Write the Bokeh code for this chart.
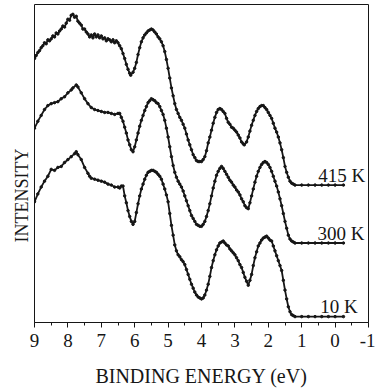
from bokeh.plotting import figure
from bokeh.models import Range1d, FixedTicker, Title
from bokeh.core.properties import value
from bokeh.embed import file_html
from bokeh.resources import INLINE

# ---- data ----
energy_415 = [9.0, 8.95, 8.9, 8.85, 8.8, 8.75, 8.7, 8.65, 8.6, 8.55, 8.5, 8.45, 8.4, 8.35, 8.3, 8.25,
              8.2, 8.15, 8.1, 8.05, 8.0, 7.95, 7.9, 7.85, 7.8, 7.75, 7.7, 7.65, 7.6, 7.55, 7.5, 7.45,
              7.4, 7.35, 7.3, 7.25, 7.2, 7.15, 7.1, 7.05, 7.0, 6.95, 6.9, 6.85, 6.8, 6.75, 6.7, 6.65,
              6.6, 6.55, 6.5, 6.45, 6.4, 6.35, 6.3, 6.25, 6.2, 6.15, 6.12, 6.05, 6.0, 5.95, 5.9, 5.85,
              5.8, 5.75, 5.7, 5.65, 5.6, 5.55, 5.5, 5.45, 5.4, 5.35, 5.3, 5.25, 5.2, 5.15, 5.1, 5.05,
              5.0, 4.95, 4.9, 4.85, 4.8, 4.75, 4.7, 4.65, 4.6, 4.55, 4.5, 4.45, 4.4, 4.35, 4.3, 4.25,
              4.2, 4.15, 4.1, 4.05, 4.0, 3.95, 3.9, 3.85, 3.8, 3.75, 3.7, 3.65, 3.6, 3.55, 3.5, 3.45,
              3.4, 3.35, 3.3, 3.25, 3.2, 3.15, 3.1, 3.05, 3.0, 2.95, 2.9, 2.85, 2.8, 2.75, 2.72, 2.65,
              2.6, 2.55, 2.5, 2.45, 2.4, 2.35, 2.3, 2.25, 2.2, 2.15, 2.1, 2.05, 2.0, 1.95, 1.9, 1.85,
              1.8, 1.75, 1.7, 1.65, 1.6, 1.55, 1.5, 1.45, 1.4, 1.35, 1.3, 1.25, 1.2, 1.0, 0.8, 0.6,
              0.4, 0.2, 0.0, -0.25]
int_415 = [269, 272, 275, 277, 280, 282, 285, 284, 288, 287, 289, 292, 291, 295, 294, 297,
           299, 302, 301, 305, 309, 308, 313, 314, 311, 312, 307, 305, 303, 299, 299, 296,
           294, 291, 293, 290, 294, 291, 293, 290, 292, 289, 290, 287, 289, 288, 286, 288,
           285, 287, 285, 282, 279, 274, 269, 263, 258, 254, 252, 255, 259, 265, 273, 280,
           286, 290, 293, 295, 297, 298, 299, 298, 296, 294, 291, 289, 286, 282, 276, 268,
           259, 249, 239, 231, 223, 217, 213, 209, 206, 202, 198, 192, 186, 181, 176, 171,
           168, 165, 164, 164, 164, 166, 169, 175, 183, 189, 196, 203, 209, 214, 217, 218,
           217, 215, 213, 208, 204, 202, 199, 198, 196, 194, 191, 188, 184, 182, 181, 184,
           189, 195, 201, 206, 211, 215, 218, 220, 221, 221, 219, 217, 214, 211, 208, 203,
           198, 194, 189, 183, 176, 168, 159, 153, 148, 144, 142, 141, 140, 140, 140, 140,
           140, 140, 140, 140]

energy_300 = [9.0, 8.9, 8.8, 8.7, 8.6, 8.5, 8.4, 8.3, 8.2, 8.1, 8.0, 7.9, 7.85, 7.75, 7.7, 7.6,
              7.5, 7.4, 7.3, 7.2, 7.1, 7.0, 6.9, 6.8, 6.7, 6.6, 6.5, 6.45, 6.4, 6.35, 6.3, 6.25,
              6.2, 6.15, 6.1, 6.05, 6.0, 5.95, 5.9, 5.85, 5.8, 5.75, 5.7, 5.65, 5.6, 5.55, 5.5, 5.45,
              5.4, 5.35, 5.3, 5.25, 5.2, 5.15, 5.1, 5.05, 5.0, 4.95, 4.9, 4.85, 4.8, 4.75, 4.7, 4.65,
              4.6, 4.55, 4.5, 4.45, 4.4, 4.35, 4.3, 4.25, 4.2, 4.15, 4.1, 4.05, 4.0, 3.95, 3.9, 3.85,
              3.8, 3.75, 3.7, 3.65, 3.6, 3.55, 3.5, 3.45, 3.4, 3.35, 3.3, 3.25, 3.2, 3.15, 3.1, 3.05,
              3.0, 2.95, 2.9, 2.85, 2.8, 2.75, 2.7, 2.65, 2.6, 2.55, 2.5, 2.45, 2.4, 2.35, 2.3, 2.25,
              2.2, 2.15, 2.1, 2.05, 2.0, 1.95, 1.9, 1.85, 1.8, 1.75, 1.7, 1.65, 1.6, 1.55, 1.5, 1.45,
              1.4, 1.35, 1.3, 1.25, 1.2, 1.0, 0.8, 0.6, 0.4, 0.2, 0.0, -0.25]
int_300 = [198, 205, 211, 217, 221, 223, 224, 225, 228, 230, 234, 237, 239, 242, 240, 234,
           228, 223, 219, 217, 216, 215, 214, 214, 213, 212, 213, 213, 209, 205, 199, 193,
           186, 181, 176, 174, 179, 186, 193, 200, 206, 211, 216, 220, 224, 226, 228, 227,
           226, 224, 223, 220, 216, 212, 206, 198, 189, 179, 169, 160, 153, 148, 144, 141,
           138, 134, 129, 124, 119, 114, 109, 106, 103, 100, 99, 98, 98, 100, 103, 108,
           114, 121, 129, 137, 144, 150, 154, 157, 159, 157, 154, 151, 148, 145, 143, 140,
           138, 135, 133, 130, 126, 123, 119, 117, 116, 122, 129, 136, 143, 149, 154, 158,
           161, 163, 164, 163, 161, 158, 154, 149, 144, 139, 133, 126, 119, 111, 103, 96,
           89, 85, 83, 82, 81, 81, 81, 81, 81, 81, 81, 81]

energy_10 = [9.0, 8.9, 8.8, 8.7, 8.6, 8.5, 8.4, 8.3, 8.2, 8.1, 8.0, 7.9, 7.8, 7.75, 7.7, 7.6,
             7.5, 7.4, 7.35, 7.3, 7.2, 7.1, 7.0, 6.9, 6.8, 6.7, 6.6, 6.5, 6.45, 6.4, 6.35, 6.3,
             6.25, 6.2, 6.15, 6.1, 6.05, 6.0, 5.95, 5.9, 5.85, 5.8, 5.75, 5.7, 5.65, 5.6, 5.55, 5.5,
             5.45, 5.4, 5.35, 5.3, 5.25, 5.2, 5.15, 5.1, 5.05, 5.0, 4.95, 4.9, 4.85, 4.8, 4.75, 4.7,
             4.65, 4.6, 4.55, 4.5, 4.45, 4.4, 4.35, 4.3, 4.25, 4.2, 4.15, 4.1, 4.05, 4.0, 3.95, 3.9,
             3.85, 3.8, 3.75, 3.7, 3.65, 3.6, 3.55, 3.5, 3.45, 3.4, 3.35, 3.3, 3.25, 3.2, 3.15, 3.1,
             3.05, 3.0, 2.95, 2.9, 2.85, 2.8, 2.75, 2.7, 2.65, 2.6, 2.55, 2.5, 2.45, 2.4, 2.35, 2.3,
             2.25, 2.2, 2.15, 2.1, 2.05, 2.0, 1.95, 1.9, 1.85, 1.8, 1.75, 1.7, 1.65, 1.6, 1.55, 1.5,
             1.45, 1.4, 1.35, 1.3, 1.25, 1.2, 1.0, 0.8, 0.6, 0.4, 0.2, 0.0, -0.25]
int_10 = [123, 131, 138, 144, 149, 156, 155, 158, 159, 163, 166, 169, 172, 174, 171, 166,
          158, 152, 149, 147, 146, 145, 144, 143, 141, 140, 138, 138, 137, 139, 139, 129,
          122, 114, 108, 103, 100, 103, 112, 121, 129, 136, 141, 146, 150, 153, 154, 155,
          155, 154, 153, 151, 149, 146, 141, 136, 130, 123, 111, 99, 89, 79, 73, 69,
          67, 64, 62, 59, 54, 49, 44, 39, 35, 31, 28, 26, 25, 24, 25, 28,
          33, 39, 47, 56, 63, 69, 74, 78, 81, 82, 83, 81, 79, 78, 75, 73,
          71, 69, 66, 63, 59, 56, 51, 46, 42, 38, 43, 49, 58, 66, 72, 78,
          81, 84, 86, 87, 88, 86, 84, 83, 78, 73, 68, 63, 58, 53, 43, 33,
          24, 16, 11, 8, 7, 6, 6, 6, 6, 6, 6, 6, 6]

temp_labels = ["415 K", "300 K", "10 K"]
label_x = [-0.90, -0.88, -0.68]
label_y = [150, 91, 16]

major_ticks = [9, 8, 7, 6, 5, 4, 3, 2, 1, 0, -1]
minor_ticks = [8.5, 7.5, 6.5, 5.5, 4.5, 3.5, 2.5, 1.5, 0.5, -0.5]
tick_labels = {9: "9", 8: "8", 7: "7", 6: "6", 5: "5", 4: "4", 3: "3", 2: "2", 1: "1", 0: "0", -1: "-1"}

FONT = "Liberation Serif"
INK = "#161616"

p = figure(width=375, height=389, output_backend="svg", toolbar_location=None,
           x_range=Range1d(9, -1), y_range=Range1d(0, 324),
           min_border_left=34, min_border_right=7, min_border_top=4, min_border_bottom=0)
p.grid.visible = False
p.yaxis.visible = False
p.outline_line_color = INK
p.outline_line_width = 1
p.background_fill_color = "white"
p.border_fill_color = "white"

ax = p.xaxis[0]
ax.ticker = FixedTicker(ticks=major_ticks, minor_ticks=minor_ticks)
ax.major_label_overrides = tick_labels
ax.major_tick_in = 0
ax.major_tick_out = 5
ax.minor_tick_in = 0
ax.minor_tick_out = 3
ax.axis_line_color = INK
ax.major_tick_line_color = INK
ax.minor_tick_line_color = INK
ax.major_label_text_font = FONT
ax.major_label_text_font_size = "19px"
ax.major_label_text_color = INK
ax.major_label_standoff = 6
ax.major_label_text_line_height = 0.9
ax.axis_label = "BINDING ENERGY (eV)"
ax.axis_label_text_font = FONT
ax.axis_label_text_font_size = "20px"
ax.axis_label_text_font_style = "normal"
ax.axis_label_text_color = INK
ax.axis_label_standoff = 15
ax.axis_label_text_line_height = 0.5

for e, i in [(energy_415, int_415), (energy_300, int_300), (energy_10, int_10)]:
    p.line(e, i, line_color=INK, line_width=1.8)
    p.scatter(e, i, size=2.5, fill_color=INK, line_color=INK)

p.text(x=label_x, y=label_y, text=temp_labels, text_font=value(FONT),
       text_font_size="19px", text_align="right", text_baseline="alphabetic", text_color=INK)

p.add_layout(Title(text="INTENSITY", align="left", offset=80, standoff=6,
                   text_font=FONT, text_font_size="18px", text_font_style="normal",
                   text_color=INK), "left")

open("out.html", "w").write(file_html(p, INLINE))
